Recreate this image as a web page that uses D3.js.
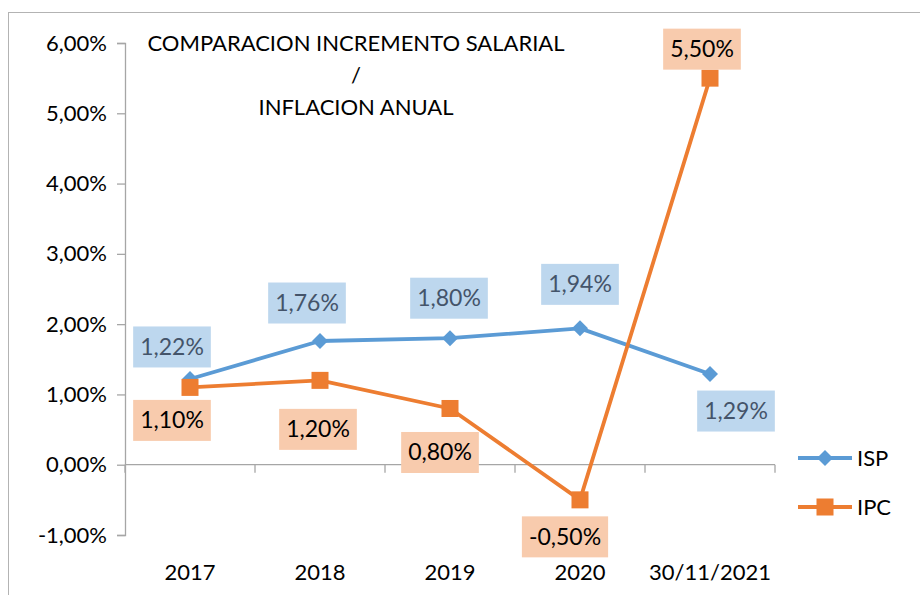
<!DOCTYPE html>
<html>
<head>
<meta charset="utf-8">
<script src="https://cdn.jsdelivr.net/npm/d3@7"></script>
<style>
  body { margin: 0; background: #fff; }
  svg text { font-family: Lato, "Open Sans", sans-serif; }
</style>
</head>
<body>
<svg id="chart" width="920" height="595"></svg>
<script>
// Data
const categories = ["2017", "2018", "2019", "2020", "30/11/2021"];
const ispValues = [1.22, 1.76, 1.80, 1.94, 1.29];
const ipcValues = [1.10, 1.20, 0.80, -0.50, 5.50];
const yTicks = [-1, 0, 1, 2, 3, 4, 5, 6];
const titleLines = ["COMPARACION INCREMENTO SALARIAL", "/", "INFLACION ANUAL"];

// Label box offsets from the point (px), Excel nudged a few of them
const ispLabelOffset = [[-18, -32], [-13, -38], [-1, -40], [0, -44], [26, 37]];
const ipcLabelOffset = [[-18, 33], [-2, 49], [-10, 44], [-15, 37], [-8, -29]];

// Spanish style: comma decimals, plain hyphen for negatives
const fmt = v => d3.format(".2f")(v).replace(".", ",").replace("\u2212", "-") + "%";

const svg = d3.select("#chart");

// outer frame (chart area border)
svg.append("rect")
  .attr("x", 8.5).attr("y", 12.5)
  .attr("width", 930).attr("height", 600)
  .attr("fill", "none")
  .attr("stroke", "#b3b3b3")
  .attr("stroke-width", 1);

const plotLeft = 125, plotRight = 775, plotTop = 43, plotBottom = 535;

const x = d3.scaleBand().domain(categories).range([plotLeft, plotRight]);
const y = d3.scaleLinear().domain([-1, 6]).range([plotBottom, plotTop]);

const axisColor = "#a6a6a6";
const fontSize = "22px";

// y axis
const yAxis = svg.append("g")
  .attr("transform", `translate(${plotLeft},0)`)
  .call(d3.axisLeft(y).tickValues(yTicks).tickSize(8).tickPadding(10).tickFormat(fmt));
yAxis.select(".domain").attr("stroke", axisColor).attr("stroke-width", 1.3);
yAxis.selectAll(".tick line").attr("stroke", axisColor).attr("stroke-width", 1.3);
yAxis.selectAll(".tick text")
  .attr("fill", "#000")
  .style("font-size", fontSize)
  .style("font-family", "Lato, sans-serif");

// x axis along zero line
const xAxis = svg.append("g")
  .attr("transform", `translate(0,${y(0)})`);
xAxis.append("line")
  .attr("x1", plotLeft).attr("x2", plotRight)
  .attr("stroke", axisColor).attr("stroke-width", 1.3);
xAxis.selectAll("line.tk")
  .data(categories.map((c, i) => i).concat([categories.length]))
  .enter().append("line")
  .attr("class", "tk")
  .attr("x1", i => plotLeft + i * x.step()).attr("x2", i => plotLeft + i * x.step())
  .attr("y1", 0).attr("y2", 8)
  .attr("stroke", axisColor).attr("stroke-width", 1.3);

// category labels at bottom
svg.selectAll("text.cat")
  .data(categories)
  .enter().append("text")
  .attr("class", "cat")
  .attr("x", d => x(d) + x.bandwidth() / 2)
  .attr("y", 580)
  .attr("text-anchor", "middle")
  .style("font-size", fontSize)
  .attr("fill", "#000")
  .text(d => d);

// title
svg.selectAll("text.title")
  .data(titleLines)
  .enter().append("text")
  .attr("class", "title")
  .attr("x", 356)
  .attr("y", (d, i) => 51 + i * 32)
  .attr("text-anchor", "middle")
  .style("font-size", fontSize)
  .attr("fill", "#000")
  .text(d => d);

const series = [
  { name: "ISP", values: ispValues, color: "#5b9bd5", labelFill: "#bdd7ee", labelText: "#44546a", offsets: ispLabelOffset, marker: "diamond" },
  { name: "IPC", values: ipcValues, color: "#ed7d31", labelFill: "#f8cbad", labelText: "#000", offsets: ipcLabelOffset, marker: "square" }
];

const line = d3.line()
  .x((d, i) => x(categories[i]) + x.bandwidth() / 2)
  .y(d => y(d));

function drawMarker(g, type, cx, cy, color) {
  if (type === "diamond") {
    g.append("path")
      .attr("d", `M${cx},${cy - 8}L${cx + 8},${cy}L${cx},${cy + 8}L${cx - 8},${cy}Z`)
      .attr("fill", color);
  } else {
    g.append("rect")
      .attr("x", cx - 8.5).attr("y", cy - 8.5)
      .attr("width", 17).attr("height", 17)
      .attr("fill", color);
  }
}

series.forEach(s => {
  const g = svg.append("g");
  g.append("path")
    .attr("d", line(s.values))
    .attr("fill", "none")
    .attr("stroke", s.color)
    .attr("stroke-width", 3.8)
    .attr("stroke-linejoin", "round");
  s.values.forEach((v, i) => {
    drawMarker(g, s.marker, x(categories[i]) + x.bandwidth() / 2, y(v), s.color);
  });
});

// data labels (drawn after both lines so they sit on top)
series.forEach(s => {
  s.values.forEach((v, i) => {
    const cx = x(categories[i]) + x.bandwidth() / 2 + s.offsets[i][0];
    const cy = y(v) + s.offsets[i][1];
    const lg = svg.append("g");
    const t = lg.append("text")
      .attr("x", cx).attr("y", cy + 8)
      .attr("text-anchor", "middle")
      .style("font-size", "23px")
      .attr("fill", s.labelText)
      .text(fmt(v));
    const w = t.node().getComputedTextLength() + 14;
    lg.insert("rect", "text")
      .attr("x", cx - w / 2).attr("y", cy - 20.5)
      .attr("width", w).attr("height", 41)
      .attr("fill", s.labelFill);
  });
});

// legend
const legend = svg.append("g");
series.forEach((s, i) => {
  const ly = 458 + i * 49;
  legend.append("line")
    .attr("x1", 798).attr("x2", 852)
    .attr("y1", ly).attr("y2", ly)
    .attr("stroke", s.color).attr("stroke-width", 3.8);
  drawMarker(legend, s.marker, 825, ly, s.color);
  legend.append("text")
    .attr("x", 857).attr("y", ly + 8)
    .style("font-size", fontSize)
    .attr("fill", "#000")
    .text(s.name);
});
</script>
</body>
</html>
